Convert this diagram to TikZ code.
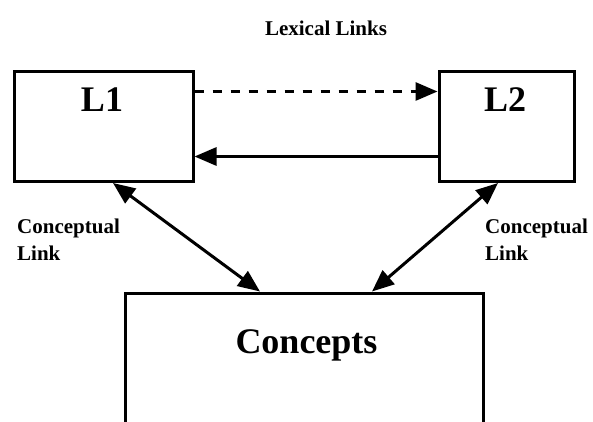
\documentclass[tikz,border=0pt]{standalone}
\usepackage{fontspec}
\setmainfont{Liberation Serif}
\usetikzlibrary{arrows.meta,positioning}
\tikzset{>={Triangle[length=22pt,width=18pt]},shorten >=0pt}
\tikzset{langbox/.style={draw,line width=3pt,inner sep=0pt}}
\tikzset{bigtext/.style={font=\fontsize{36}{40}\selectfont\bfseries,inner sep=0pt}}
\tikzset{smalltext/.style={font=\fontsize{21}{27}\selectfont\bfseries,inner sep=0pt,align=left}}
\tikzset{link/.style={line width=3pt}}

\begin{document}
\begin{tikzpicture}[x=1pt,y=-1pt]
                \useasboundingbox (0,0) rectangle (593,422);
                \node [langbox,minimum width=179pt,minimum height=110pt] (l1) at (103.5,126.5) {};
                \node [langbox,minimum width=135pt,minimum height=110pt] (l2) at (506.5,126.5) {};
                \node [langbox,minimum width=358pt,minimum height=130pt] (concepts) at (304.5,358) {};
                \node [bigtext,anchor=base] (l1text) at (102,112) {L1};
                \node [bigtext,anchor=base] (l2text) at (505,112) {L2};
                \node [bigtext,anchor=base] (conceptstext) at (306.5,353) {Concepts};
                \node [smalltext,anchor=base] (lexical) at (326,36) {Lexical Links};
                \node [smalltext,anchor=north west] (leftlink) at (17,218.7) {Conceptual\\Link};
                \node [smalltext,anchor=north west] (rightlink) at (485,218.7) {Conceptual\\Link};
                \draw [link,dashed,dash pattern=on 9pt off 9pt,->] ([yshift=-21.5pt]l1.north east) -- ([yshift=-21.5pt]l2.north west);
                \draw [link,->] ([yshift=-86.5pt]l2.north west) -- ([yshift=-86.5pt]l1.north east);
                \draw [link,<->] ([xshift=9.5pt]l1.south) -- ([xshift=-44.5pt]concepts.north);
                \draw [link,<->] ([xshift=-8.5pt]l2.south) -- ([xshift=67.5pt]concepts.north);
            \end{tikzpicture}
\end{document}
